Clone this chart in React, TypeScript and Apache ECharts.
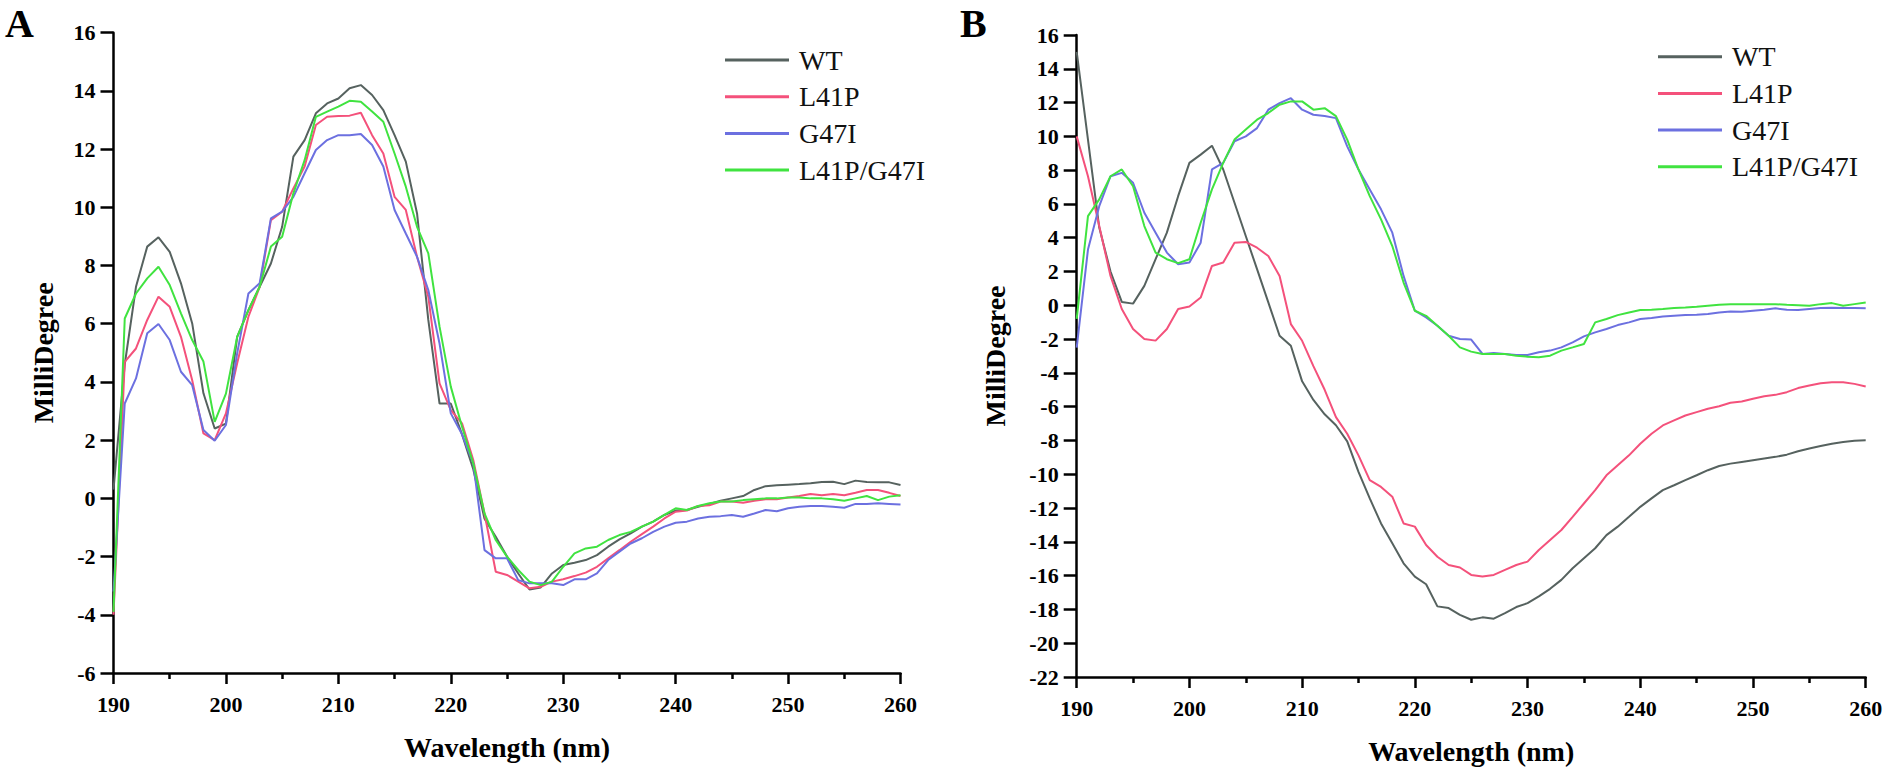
import React, { useEffect, useRef } from "react";
import * as echarts from "echarts";

const wavelengths = [
  190, 191, 192, 193, 194, 195, 196, 197, 198, 199,
  200, 201, 202, 203, 204, 205, 206, 207, 208, 209,
  210, 211, 212, 213, 214, 215, 216, 217, 218, 219,
  220, 221, 222, 223, 224, 225, 226, 227, 228, 229,
  230, 231, 232, 233, 234, 235, 236, 237, 238, 239,
  240, 241, 242, 243, 244, 245, 246, 247, 248, 249,
  250, 251, 252, 253, 254, 255, 256, 257, 258, 259,
  260,
];

const seriesNames = ["WT", "L41P", "G47I", "L41P/G47I"];
const seriesColors = ["#56625f", "#f4517b", "#6c70e0", "#40e340"];

// Panel A
const wtA = [
  0.3, 4.6, 7.27, 8.65, 8.97, 8.47, 7.39, 6.01, 3.61, 2.4,
  2.57, 5.55, 6.47, 7.27, 8.07, 9.33, 11.74, 12.31, 13.23, 13.57,
  13.74, 14.09, 14.2, 13.86, 13.34, 12.48, 11.57, 9.79, 6.13, 3.26,
  3.26, 2.2, 1.0, -0.7, -1.32, -2.0, -2.58, -3.13, -3.06, -2.58,
  -2.29, -2.21, -2.12, -1.95, -1.66, -1.41, -1.2, -0.97, -0.8, -0.57,
  -0.42, -0.4, -0.29, -0.19, -0.08, 0.0, 0.08, 0.29, 0.42, 0.45,
  0.47, 0.49, 0.52, 0.56, 0.57, 0.49, 0.61, 0.56, 0.55, 0.55,
  0.46,
];
const l41pA = [
  -4.0, 4.69, 5.15, 6.13, 6.93, 6.58, 5.55, 4.06, 2.23, 2.0,
  2.92, 4.64, 6.24, 7.27, 9.56, 9.85, 10.65, 11.4, 12.83, 13.11,
  13.14, 13.15, 13.25, 12.48, 11.85, 10.36, 9.91, 8.3, 6.93, 3.95,
  3.03, 2.58, 1.32, -0.52, -2.52, -2.63, -2.86, -3.09, -3.04, -2.86,
  -2.78, -2.67, -2.55, -2.35, -2.06, -1.78, -1.49, -1.23, -0.97, -0.69,
  -0.46, -0.42, -0.26, -0.24, -0.11, -0.11, -0.15, -0.08, -0.03, -0.03,
  0.03, 0.08, 0.15, 0.11, 0.15, 0.11, 0.19, 0.29, 0.29, 0.19,
  0.08,
];
const g47iA = [
  -3.2, 3.26, 4.12, 5.67, 5.99, 5.44, 4.35, 3.89, 2.35, 1.98,
  2.52, 4.98, 7.04, 7.39, 9.62, 9.85, 10.36, 11.17, 11.97, 12.31,
  12.48, 12.48, 12.52, 12.14, 11.4, 9.91, 9.1, 8.3, 7.16, 5.32,
  2.92, 2.2, 1.2, -1.78, -2.06, -2.06, -2.81, -2.92, -2.92, -2.92,
  -2.98, -2.78, -2.78, -2.58, -2.12, -1.83, -1.55, -1.37, -1.15, -0.97,
  -0.84, -0.8, -0.69, -0.63, -0.61, -0.57, -0.63, -0.52, -0.4, -0.44,
  -0.34, -0.29, -0.26, -0.26, -0.29, -0.32, -0.19, -0.19, -0.17, -0.19,
  -0.21,
];
const doubleA = [
  -3.9, 6.18, 7.04, 7.56, 7.96, 7.33, 6.36, 5.44, 4.7, 2.63,
  3.6, 5.55, 6.47, 7.27, 8.65, 8.99, 10.48, 11.62, 13.11, 13.29,
  13.46, 13.66, 13.63, 13.29, 12.94, 11.85, 10.71, 9.33, 8.42, 5.9,
  3.84, 2.46, 1.2, -0.52, -1.43, -2.0, -2.46, -2.86, -2.98, -2.86,
  -2.35, -1.89, -1.72, -1.66, -1.43, -1.26, -1.15, -0.97, -0.8, -0.57,
  -0.34, -0.4, -0.26, -0.17, -0.11, -0.11, -0.06, -0.03, 0.0, 0.0,
  0.03, 0.03, 0.0, 0.0, -0.03, -0.08, 0.0, 0.08, -0.06, 0.06,
  0.11,
];

// Panel B
const wtB = [
  15.0, 9.8, 4.6, 2.0, 0.2, 0.1, 1.15, 2.73, 4.3, 6.46,
  8.43, 8.92, 9.45, 8.04, 6.07, 4.1, 2.14, 0.17, -1.8, -2.39,
  -4.5, -5.6, -6.45, -7.1, -8.05, -9.86, -11.43, -12.91, -14.09, -15.27,
  -16.06, -16.51, -17.82, -17.92, -18.32, -18.61, -18.47, -18.55, -18.22, -17.86,
  -17.63, -17.23, -16.78, -16.25, -15.56, -14.97, -14.38, -13.6, -13.1, -12.52,
  -11.93, -11.43, -10.94, -10.65, -10.35, -10.06, -9.76, -9.51, -9.37, -9.27,
  -9.17, -9.07, -8.97, -8.84, -8.64, -8.48, -8.33, -8.19, -8.09, -8.01,
  -7.99,
];
const l41pB = [
  10.0, 7.64, 4.69, 1.74, -0.22, -1.4, -1.99, -2.09, -1.4, -0.22,
  -0.07, 0.46, 2.33, 2.53, 3.71, 3.75, 3.41, 2.92, 1.74, -1.11,
  -2.1, -3.6, -5.0, -6.62, -7.6, -8.88, -10.35, -10.75, -11.33, -12.91,
  -13.1, -14.19, -14.88, -15.37, -15.52, -15.96, -16.05, -15.96, -15.66, -15.37,
  -15.17, -14.48, -13.89, -13.3, -12.52, -11.73, -10.94, -10.06, -9.47, -8.88,
  -8.19, -7.6, -7.11, -6.81, -6.52, -6.32, -6.12, -5.97, -5.77, -5.69,
  -5.53, -5.38, -5.3, -5.14, -4.9, -4.75, -4.61, -4.55, -4.55, -4.65,
  -4.81,
];
const g47iB = [
  -2.5, 3.3, 5.87, 7.64, 7.84, 7.25, 5.48, 4.3, 3.12, 2.43,
  2.53, 3.71, 8.04, 8.43, 9.71, 10.0, 10.49, 11.58, 11.97, 12.26,
  11.58, 11.28, 11.2, 11.08, 9.41, 8.04, 6.86, 5.68, 4.3, 1.74,
  -0.32, -0.72, -1.21, -1.8, -1.99, -2.03, -2.88, -2.82, -2.88, -2.94,
  -2.94, -2.78, -2.68, -2.49, -2.19, -1.84, -1.6, -1.4, -1.17, -1.01,
  -0.81, -0.75, -0.66, -0.62, -0.58, -0.56, -0.52, -0.42, -0.36, -0.38,
  -0.32, -0.26, -0.18, -0.26, -0.28, -0.22, -0.16, -0.14, -0.16, -0.16,
  -0.18,
];
const doubleB = [
  -0.8, 5.28, 6.27, 7.64, 8.04, 7.05, 4.69, 3.12, 2.73, 2.5,
  2.73, 4.89, 6.86, 8.43, 9.81, 10.4, 10.99, 11.38, 11.87, 12.07,
  12.07, 11.58, 11.67, 11.2, 9.81, 8.04, 6.46, 5.09, 3.51, 1.35,
  -0.32, -0.62, -1.21, -1.8, -2.49, -2.74, -2.88, -2.88, -2.88, -2.98,
  -3.04, -3.08, -2.98, -2.68, -2.49, -2.29, -1.01, -0.81, -0.58, -0.42,
  -0.28, -0.26, -0.22, -0.16, -0.13, -0.09, -0.03, 0.03, 0.07, 0.07,
  0.07, 0.07, 0.07, 0.03, 0.01, -0.03, 0.07, 0.13, -0.03, 0.07,
  0.17,
];

const xTicks = { min: 190, max: 260, interval: 10 };
const yTicksA = { min: -6, max: 16, interval: 2 };
const yTicksB = { min: -22, max: 16, interval: 2 };

const FONT = '"Liberation Serif", "Times New Roman", serif';

function pairs(values: number[]) {
  return wavelengths.map((w, i) => [w, values[i]]);
}

function makeXAxis(gridIndex: number) {
  return {
    gridIndex,
    type: "value",
    min: xTicks.min,
    max: xTicks.max,
    interval: xTicks.interval,
    name: "Wavelength (nm)",
    nameLocation: "middle",
    nameGap: 60,
    nameTextStyle: { fontFamily: FONT, fontWeight: "bold", fontSize: 28, color: "#000" },
    axisLine: { show: true, onZero: false, lineStyle: { color: "#000", width: 2.5 } },
    axisTick: { show: true, inside: false, length: 11, lineStyle: { color: "#000", width: 2.5 } },
    minorTick: { show: true, splitNumber: 2, length: 6, lineStyle: { color: "#000", width: 2.5 } },
    axisLabel: { fontFamily: FONT, fontWeight: "bold", fontSize: 22, color: "#000", margin: 20 },
    splitLine: { show: false },
    minorSplitLine: { show: false },
  };
}

function makeYAxis(gridIndex: number, ticks: { min: number; max: number; interval: number }, nameGap: number) {
  return {
    gridIndex,
    type: "value",
    min: ticks.min,
    max: ticks.max,
    interval: ticks.interval,
    name: "MilliDegree",
    nameLocation: "middle",
    nameGap,
    nameTextStyle: { fontFamily: FONT, fontWeight: "bold", fontSize: 28, color: "#000" },
    axisLine: { show: true, onZero: false, lineStyle: { color: "#000", width: 2.5 } },
    axisTick: { show: true, inside: false, length: 13, lineStyle: { color: "#000", width: 2.5 } },
    axisLabel: { fontFamily: FONT, fontWeight: "bold", fontSize: 22, color: "#000", margin: 18 },
    splitLine: { show: false },
  };
}

function makeSeries(name: string, color: string, values: number[], idx: number) {
  return {
    name,
    type: "line",
    xAxisIndex: idx,
    yAxisIndex: idx,
    data: pairs(values),
    showSymbol: false,
    symbol: "none",
    lineStyle: { color, width: 2 },
    itemStyle: { color },
    z: 2,
  };
}

function makeLegend(left: number, top: number, gap: number) {
  return {
    orient: "vertical",
    left,
    top,
    icon: "rect",
    itemWidth: 64,
    itemHeight: 3,
    itemGap: gap,
    selectedMode: false,
    data: seriesNames,
    textStyle: { fontFamily: FONT, fontSize: 28, lineHeight: 28, color: "#111", padding: [0, 0, 0, 5] },
  };
}

export default function App() {
  const ref = useRef<HTMLDivElement>(null);

  useEffect(() => {
    document.body.style.margin = "0";
    if (!ref.current) return;
    const chart = echarts.init(ref.current, undefined, { renderer: "svg" });
    const valuesA = [wtA, l41pA, g47iA, doubleA];
    const valuesB = [wtB, l41pB, g47iB, doubleB];
    const option = {
      animation: false,
      backgroundColor: "#fff",
      grid: [
        { left: 113.5, top: 32.7, width: 787, height: 640.3 },
        { left: 1076.7, top: 35, width: 789, height: 642 },
      ],
      xAxis: [makeXAxis(0), makeXAxis(1)],
      yAxis: [makeYAxis(0, yTicksA, 56), makeYAxis(1, yTicksB, 67)],
      legend: [makeLegend(720, 41, 8.7), makeLegend(1653, 37.7, 8.7)],
      graphic: [
        { type: "text", left: 5, top: 3, style: { text: "A", font: `bold 40px ${FONT}`, fill: "#000" } },
        { type: "text", left: 960, top: 3, style: { text: "B", font: `bold 40px ${FONT}`, fill: "#000" } },
      ],
      series: [
        ...seriesNames.map((n, i) => makeSeries(n, seriesColors[i], valuesA[i], 0)),
        ...seriesNames.map((n, i) => makeSeries(n, seriesColors[i], valuesB[i], 1)),
      ],
    };
    chart.setOption(option as any);
    return () => {
      chart.dispose();
    };
  }, []);

  return (
    <div
      ref={ref}
      style={{ position: "fixed", left: 0, top: 0, width: 1890, height: 775, background: "#fff" }}
    />
  );
}
